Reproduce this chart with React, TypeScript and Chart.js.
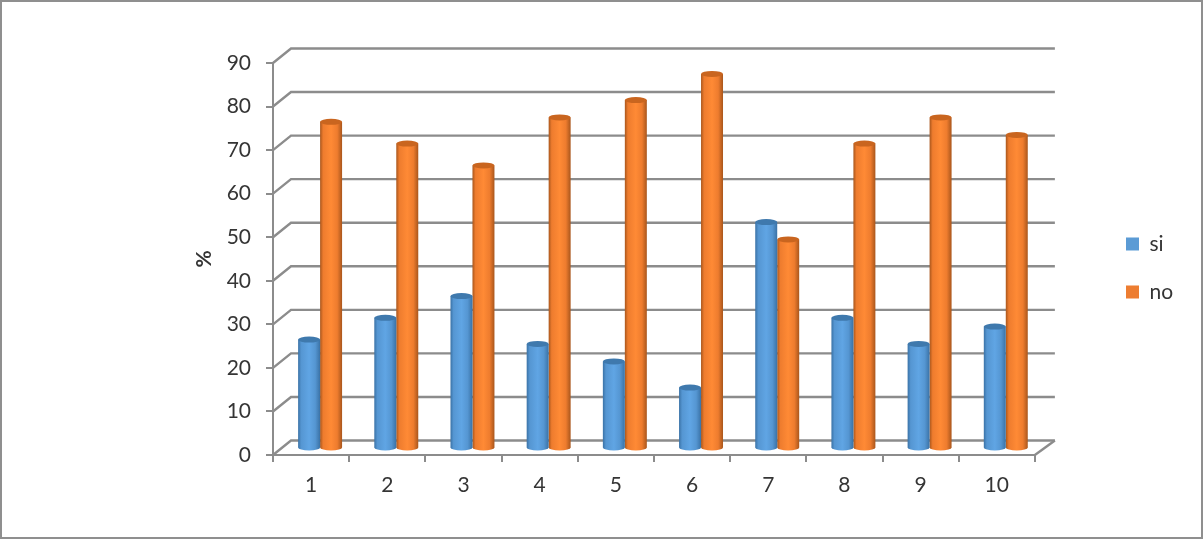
import React, { useEffect, useRef } from "react";
import { Chart, registerables } from "chart.js";

Chart.register(...registerables);

const categories = ["1", "2", "3", "4", "5", "6", "7", "8", "9", "10"];
const siValues = [25, 30, 35, 24, 20, 14, 52, 30, 24, 28];
const noValues = [75, 70, 65, 76, 80, 86, 48, 70, 76, 72];
const seriesNames = ["si", "no"];
const legendColors = ["#5b9bd5", "#ed7d31"];
const shades = [
  { edge: "#3a72a6", mid: "#5596d2", light: "#60a5e4", top: "#3f79ad" },
  { edge: "#a9561c", mid: "#ee7c2e", light: "#ff8a35", top: "#c9651f" },
];
const yTicksMax = 90;
const depthX = 18;
const depthY = 14.5;
const barShiftX = 9;
const barShiftY = -6.5;
const CAT_PCT = 0.577;
const GRID = "#8c8c8c";
const TEXT = "#353535";
const FONT = "Lato";

function barFill(ctx: any) {
  const chart = ctx.chart;
  const x = chart.scales.x;
  if (!x || ctx.dataIndex === undefined) return legendColors[ctx.datasetIndex ?? 0];
  const cat = x.width / categories.length;
  const w = (cat * CAT_PCT) / 2;
  const c = x.getPixelForValue(ctx.dataIndex);
  const left = ctx.datasetIndex === 0 ? c - w : c;
  const s = shades[ctx.datasetIndex];
  const g = chart.ctx.createLinearGradient(left, 0, left + w, 0);
  g.addColorStop(0, s.edge);
  g.addColorStop(0.14, s.mid);
  g.addColorStop(0.5, s.light);
  g.addColorStop(0.78, s.mid);
  g.addColorStop(1, s.edge);
  return g;
}

const wallPlugin = {
  id: "wall",
  afterLayout(chart: any) {
    const lg = chart.legend;
    if (lg) {
      const w = lg.right - lg.left;
      const h = lg.bottom - lg.top;
      lg.left = 1099;
      lg.right = 1099 + w;
      lg.top = 206.5;
      lg.bottom = 206.5 + h;
    }
  },
  beforeDatasetsDraw(chart: any) {
    const { ctx, chartArea: a, scales } = chart;
    const y = scales.y;
    ctx.save();
    ctx.strokeStyle = GRID;
    ctx.lineWidth = 2.4;
    y.ticks.forEach((t: any) => {
      const py = y.getPixelForValue(t.value);
      ctx.beginPath();
      ctx.moveTo(a.left, py);
      ctx.lineTo(a.left + depthX, py - depthY);
      ctx.lineTo(a.right + depthX + 2, py - depthY);
      ctx.stroke();
    });
    const base = y.getPixelForValue(0);
    ctx.beginPath();
    ctx.moveTo(a.right, base);
    ctx.lineTo(a.right + depthX + 2, base - depthY);
    ctx.stroke();
    ctx.restore();
    ctx.save();
    ctx.translate(barShiftX, barShiftY);
  },
  afterDatasetDraw(chart: any, args: any) {
    const { ctx } = chart;
    const meta = chart.getDatasetMeta(args.index);
    const s = shades[args.index];
    meta.data.forEach((bar: any) => {
      const p = bar.getProps(["x", "y", "base", "width"], true);
      const rx = p.width / 2;
      ctx.fillStyle = bar.options.backgroundColor;
      ctx.beginPath();
      ctx.ellipse(p.x, p.base, rx, 3, 0, 0, Math.PI * 2);
      ctx.fill();
      ctx.fillStyle = s.top;
      ctx.beginPath();
      ctx.ellipse(p.x, p.y, rx, 3, 0, 0, Math.PI * 2);
      ctx.fill();
    });
  },
  afterDatasetsDraw(chart: any) {
    chart.ctx.restore();
  },
};

export default function App() {
  const ref = useRef<HTMLCanvasElement>(null);
  useEffect(() => {
    const chart = new Chart(ref.current as HTMLCanvasElement, {
      type: "bar",
      data: {
        labels: categories,
        datasets: [
          { label: seriesNames[0], data: siValues, backgroundColor: barFill, clip: false },
          { label: seriesNames[1], data: noValues, backgroundColor: barFill, clip: false },
        ] as any,
      },
      plugins: [wallPlugin],
      options: {
        responsive: false,
        animation: false,
        events: [],
        layout: { padding: { left: 0, top: 63, right: 84, bottom: 34 } },
        datasets: { bar: { barPercentage: 1, categoryPercentage: CAT_PCT } },
        plugins: {
          tooltip: { enabled: false },
          legend: {
            position: "right",
            align: "start",
            labels: {
              font: { family: FONT, size: 21 },
              color: TEXT,
              boxWidth: 13,
              boxHeight: 13,
              padding: 27,
              generateLabels: (c: any) =>
                c.data.datasets.map((d: any, i: number) => ({
                  text: d.label,
                  fillStyle: legendColors[i],
                  strokeStyle: legendColors[i],
                  lineWidth: 0,
                  datasetIndex: i,
                  fontColor: TEXT,
                })),
            },
          },
        },
        scales: {
          x: {
            afterFit: (s: any) => {
              s.height = 50;
            },
            grid: { drawOnChartArea: false, drawTicks: true, tickLength: 7, color: GRID, lineWidth: 2 },
            border: { display: true, color: GRID, width: 2 },
            ticks: {
              font: { family: FONT, size: 21 },
              color: TEXT,
              padding: 11,
              maxRotation: 0,
            },
          },
          y: {
            min: 0,
            max: yTicksMax,
            afterFit: (s: any) => {
              s.width = 273;
            },
            grid: { drawOnChartArea: false, drawTicks: true, tickLength: 7, color: GRID, lineWidth: 2 },
            border: { display: true, color: GRID, width: 2 },
            ticks: {
              stepSize: 10,
              font: { family: FONT, size: 21 },
              color: TEXT,
              padding: 15,
            },
            title: {
              display: true,
              text: "%",
              font: { family: FONT, size: 21, weight: "bold" },
              color: TEXT,
              padding: { top: 192, bottom: 0 },
            },
          },
        },
      } as any,
    });
    return () => chart.destroy();
  }, []);
  return (
    <div style={{ position: "absolute", left: 0, top: 0, width: 1203, height: 539, background: "#fff" }}>
      <canvas ref={ref} width={1203} height={539} style={{ display: "block" }} />
      <div
        style={{
          position: "absolute",
          left: 0,
          top: 0,
          width: 1203,
          height: 539,
          boxSizing: "border-box",
          border: "2px solid #8f8f8f",
          pointerEvents: "none",
        }}
      />
    </div>
  );
}
